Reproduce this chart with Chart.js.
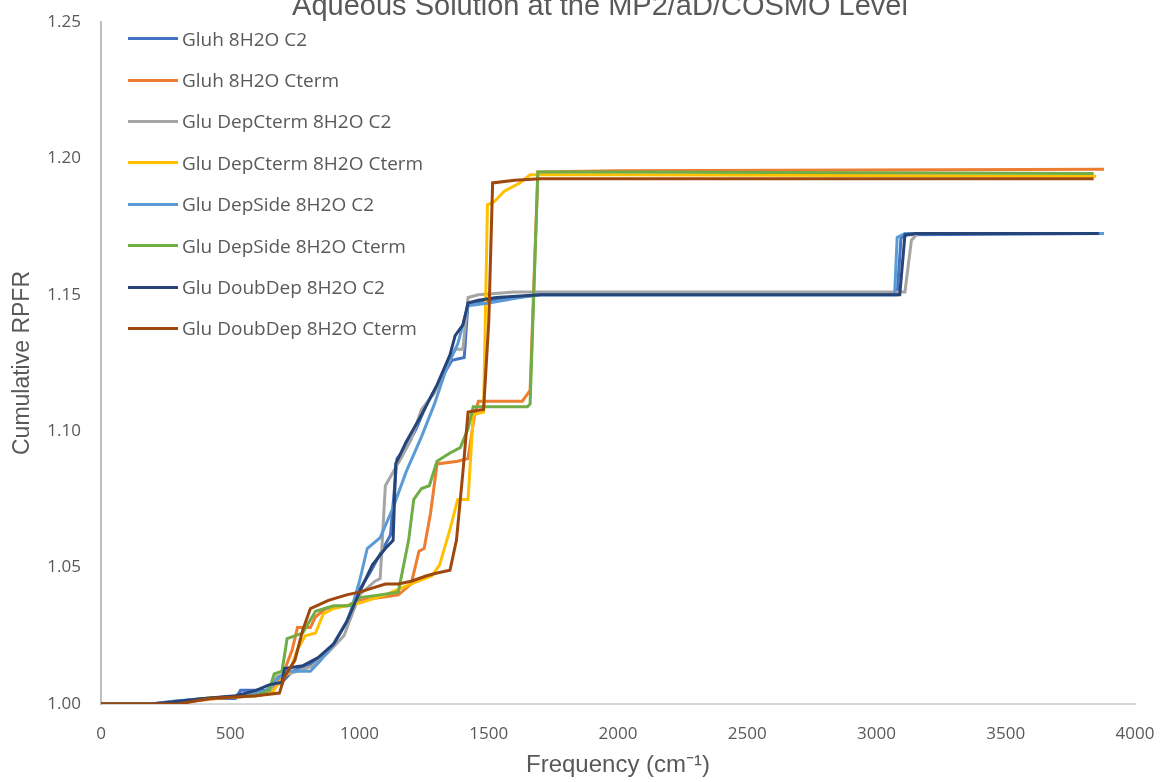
<!DOCTYPE html>
<html>
<head>
<meta charset="utf-8">
<script src="https://cdn.jsdelivr.net/npm/chart.js@4"></script>
<style>
  html, body { margin: 0; padding: 0; background: #fff; }
  #wrap { position: relative; width: 1168px; height: 782px; overflow: hidden; }
  #legend { position: absolute; left: 128px; top: 18px; font-family: "Open Sans", sans-serif; font-size: 19px; color: #595959; }
  #legend .item { height: 41.4px; display: flex; align-items: center; white-space: nowrap; }
  #legend .swatch { width: 50px; height: 3px; margin-right: 4px; }
</style>
</head>
<body>
<div id="wrap">
  <canvas id="rpfrChart" width="1168" height="782"></canvas>
  <div id="legend"></div>
</div>
<script>
const chartTitle = 'Aqueous Solution at the MP2/aD/COSMO Level';

const seriesNames = [
  'Gluh 8H2O C2',
  'Gluh 8H2O Cterm',
  'Glu DepCterm 8H2O C2',
  'Glu DepCterm 8H2O Cterm',
  'Glu DepSide 8H2O C2',
  'Glu DepSide 8H2O Cterm',
  'Glu DoubDep 8H2O C2',
  'Glu DoubDep 8H2O Cterm'
];

const seriesColors = ['#4472C4', '#ED7D31', '#A5A5A5', '#FFC000', '#5B9BD5', '#70AD47', '#264478', '#9E480E'];

// [frequency cm-1, cumulative RPFR]
const gluhC2 = [[0,1.000],[190,1.000],[280,1.001],[400,1.002],[520,1.002],[540,1.005],[640,1.005],[700,1.008],[740,1.012],[800,1.014],[860,1.018],[900,1.022],[950,1.030],[1000,1.042],[1040,1.048],[1080,1.055],[1120,1.062],[1145,1.090],[1180,1.094],[1220,1.101],[1260,1.110],[1320,1.120],[1358,1.126],[1405,1.127],[1420,1.147],[1500,1.148],[1600,1.149],[1700,1.150],[3080,1.150],[3095,1.171],[3120,1.172],[3870,1.1725]];

const gluhCterm = [[0,1.000],[250,1.000],[350,1.001],[450,1.002],[600,1.003],[660,1.004],[700,1.010],[740,1.020],[760,1.028],[810,1.028],[830,1.032],[870,1.035],[950,1.036],[1000,1.038],[1080,1.039],[1150,1.040],[1200,1.044],[1230,1.056],[1250,1.057],[1275,1.070],[1300,1.088],[1380,1.089],[1420,1.090],[1445,1.106],[1460,1.111],[1630,1.111],[1660,1.115],[1690,1.195],[2000,1.1955],[3880,1.196]];

const depCtermC2 = [[0,1.000],[200,1.000],[300,1.001],[400,1.002],[550,1.003],[650,1.004],[680,1.010],[760,1.012],[820,1.014],[880,1.019],[940,1.025],[1000,1.040],[1060,1.045],[1080,1.046],[1100,1.080],[1160,1.090],[1200,1.097],[1240,1.108],[1290,1.114],[1340,1.124],[1370,1.130],[1400,1.130],[1420,1.149],[1460,1.150],[1600,1.151],[3110,1.151],[3135,1.170],[3160,1.1725],[3850,1.1725]];

const depCtermCterm = [[0,1.000],[250,1.000],[400,1.002],[600,1.003],[660,1.004],[690,1.008],[730,1.012],[760,1.020],[790,1.025],[830,1.026],[860,1.033],[900,1.035],[1000,1.037],[1100,1.040],[1200,1.044],[1280,1.047],[1310,1.051],[1350,1.064],[1380,1.075],[1420,1.075],[1440,1.106],[1480,1.107],[1495,1.183],[1520,1.184],[1560,1.188],[1620,1.191],[1660,1.194],[2000,1.194],[3850,1.1935]];

const depSideC2 = [[0,1.000],[200,1.000],[300,1.001],[400,1.002],[560,1.003],[640,1.005],[690,1.010],[720,1.012],[810,1.012],[850,1.016],[900,1.022],[960,1.032],[1000,1.045],[1030,1.057],[1080,1.061],[1130,1.072],[1180,1.085],[1240,1.098],[1290,1.110],[1340,1.124],[1380,1.132],[1420,1.146],[1500,1.147],[1560,1.148],[1620,1.149],[1700,1.150],[3070,1.150],[3080,1.171],[3110,1.1725],[3880,1.1725]];

const depSideCterm = [[0,1.000],[250,1.000],[400,1.002],[600,1.003],[650,1.005],[670,1.011],[700,1.012],[720,1.024],[780,1.026],[830,1.034],[900,1.036],[960,1.036],[1000,1.039],[1080,1.040],[1150,1.041],[1190,1.060],[1210,1.075],[1240,1.079],[1270,1.080],[1300,1.089],[1350,1.092],[1390,1.094],[1420,1.101],[1440,1.109],[1650,1.109],[1660,1.110],[1690,1.195],[2000,1.195],[3840,1.1945]];

const doubDepC2 = [[0,1.000],[200,1.000],[300,1.001],[400,1.002],[520,1.003],[560,1.004],[600,1.005],[650,1.007],[700,1.008],[710,1.013],[780,1.014],[840,1.017],[900,1.022],[950,1.030],[1000,1.041],[1050,1.051],[1100,1.057],[1130,1.060],[1140,1.088],[1180,1.096],[1240,1.106],[1300,1.117],[1350,1.128],[1370,1.135],[1400,1.139],[1420,1.147],[1460,1.148],[1530,1.149],[1700,1.150],[3090,1.150],[3110,1.172],[3150,1.1725],[3860,1.1725]];

const doubDepCterm = [[0,1.000],[200,1.000],[300,1.000],[420,1.002],[600,1.003],[690,1.004],[710,1.010],[750,1.016],[780,1.027],[810,1.035],[880,1.038],[950,1.040],[1000,1.041],[1100,1.044],[1150,1.044],[1200,1.045],[1260,1.047],[1300,1.048],[1350,1.049],[1375,1.060],[1400,1.085],[1420,1.107],[1480,1.108],[1500,1.140],[1515,1.191],[1600,1.192],[1700,1.1925],[3300,1.1925],[3840,1.1925]];

const allSeries = [gluhC2, gluhCterm, depCtermC2, depCtermCterm, depSideC2, depSideCterm, doubDepC2, doubDepCterm];

const textColor = '#595959';

const datasets = allSeries.map((pts, i) => ({
  label: seriesNames[i],
  data: pts.map(p => ({ x: p[0], y: p[1] })),
  borderColor: seriesColors[i],
  backgroundColor: seriesColors[i],
  borderWidth: 3,
  pointRadius: 0,
  showLine: true,
  tension: 0,
  order: allSeries.length - i   // later series drawn on top, like Excel
}));

// title sits above the canvas edge, so draw it by hand and let it clip
const titlePlugin = {
  id: 'clippedTitle',
  afterDraw(chart) {
    const ctx = chart.ctx;
    ctx.save();
    ctx.font = '29px "Liberation Sans", Arial, sans-serif';
    ctx.fillStyle = textColor;
    ctx.textAlign = 'center';
    ctx.textBaseline = 'alphabetic';
    ctx.fillText(chartTitle, 600, 15);
    ctx.restore();
  }
};

new Chart(document.getElementById('rpfrChart').getContext('2d'), {
  type: 'scatter',
  data: { datasets: datasets },
  options: {
    responsive: false,
    animation: false,
    layout: { padding: { top: 22, right: 33, bottom: 0, left: 0 } },
    plugins: {
      legend: { display: false },
      tooltip: { enabled: false }
    },
    scales: {
      x: {
        type: 'linear',
        min: 0,
        max: 4000,
        afterFit: (scale) => { scale.height = 78; scale.paddingLeft = 0; scale.paddingRight = 0; },
        ticks: { stepSize: 500, padding: 20, color: textColor, font: { family: 'Open Sans', size: 17 }, callback: v => String(v) },
        grid: { display: false, drawTicks: false },
        border: { display: true, color: '#D9D9D9', width: 2 },
        title: { display: true, text: 'Frequency (cm\u207B\u00B9)', color: textColor, padding: { top: 0, bottom: 2 }, font: { family: '"Liberation Sans"', size: 24 } }
      },
      y: {
        type: 'linear',
        min: 1.0,
        max: 1.25,
        afterFit: (scale) => { scale.width = 101; scale.paddingTop = 0; scale.paddingBottom = 0; },
        ticks: { stepSize: 0.05, padding: 20, color: textColor, font: { family: 'Open Sans', size: 17 }, callback: v => v.toFixed(2) },
        grid: { display: false, drawTicks: false },
        border: { display: true, color: '#BFBFBF', width: 2 },
        title: { display: true, text: 'Cumulative RPFR', color: textColor, padding: { top: 9, bottom: 0 }, font: { family: '"Liberation Sans"', size: 23 } }
      }
    }
  },
  plugins: [titlePlugin]
});

// legend sits inside the plot area, top-left
const legendBox = document.getElementById('legend');
seriesNames.forEach((name, i) => {
  const row = document.createElement('div');
  row.className = 'item';
  row.innerHTML = '<span class="swatch" style="background:' + seriesColors[i] + '"></span><span>' + name + '</span>';
  legendBox.appendChild(row);
});
</script>
</body>
</html>
